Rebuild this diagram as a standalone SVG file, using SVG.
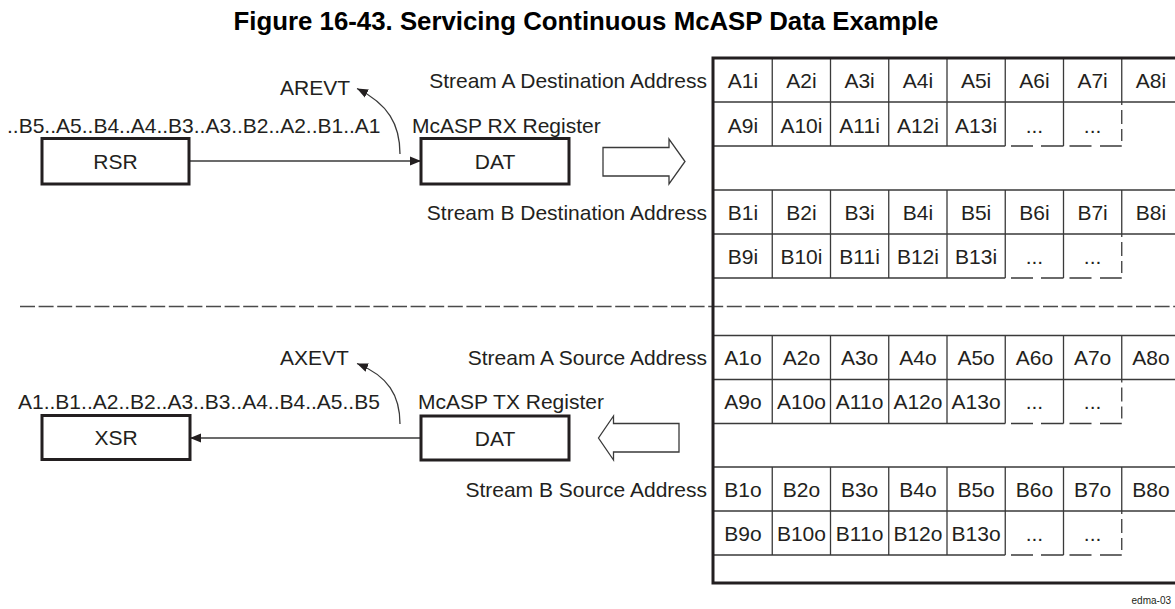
<svg xmlns="http://www.w3.org/2000/svg" xmlns:xlink="http://www.w3.org/1999/xlink" width="1175" height="609" viewBox="0 0 1175 609">
<style>
  .t { font-family: "Liberation Sans", Arial, sans-serif; font-size: 21px; fill: #231f20; }
  .c { text-anchor: middle; }
  .e { text-anchor: end; }
  .title { font-family: "Liberation Sans", Arial, sans-serif; font-size: 25.8px; font-weight: bold; fill: #000; text-anchor: middle; }
  .box { fill: #fff; stroke: #231f20; stroke-width: 3; }
  .thin { fill: none; stroke: #3a3a3a; stroke-width: 1.3; }
  .frame { fill: none; stroke: #231f20; stroke-width: 3; }
  .hollow { fill: #fff; stroke: #3a3a3a; stroke-width: 1.3; }
  .conn { fill: none; stroke: #3a3a3a; stroke-width: 1.3; }
  .sep { fill: none; stroke: #4a4a4a; stroke-width: 1.3; stroke-dasharray: 15 3.6; }
</style>
<defs>
  <marker id="ah" markerUnits="userSpaceOnUse" markerWidth="12" markerHeight="10" refX="11" refY="5" orient="auto">
    <path d="M0,0.5 L11,5 L0,9.5 z" fill="#231f20"/>
  </marker>
  <g id="blk">
    <path class="thin" d="M714,0 H1175 M714,44 H1175 M714,88 H1005.25 M772.25,0 V88 M830.5,0 V88 M888.75,0 V88 M947,0 V88 M1005.25,0 V88 M1063.5,0 V88 M1121.75,0 V44"/>
    <path class="thin" d="M1011,88 H1033 M1041,88 H1063.5 M1069.5,88 H1091.5 M1100,88 H1121.75"/>
    <path class="thin" d="M1121.75,44 V88" stroke-dasharray="3 5 14 5 12 8"/>
  </g>
</defs>
<rect width="1175" height="609" fill="#fff"/>

<text class="title" x="586" y="30">Figure 16-43. Servicing Continuous McASP Data Example</text>

<g id="separator">
  <path class="sep" d="M20,306.5 H1175"/>
</g>

<g id="connectors">
  <path class="conn" d="M190,161 H421" marker-end="url(#ah)"/>
  <path class="conn" d="M421,438 H190" marker-end="url(#ah)"/>
  <path class="conn" d="M400,154 C400,124 388,104 357,88.5" marker-end="url(#ah)"/>
  <path class="conn" d="M400,424 C400,395 388,376 357,363.5" marker-end="url(#ah)"/>
</g>

<g id="rsr">
  <rect class="box" x="42" y="138.5" width="147" height="45.5"/>
  <text class="t c" x="115.5" y="168.5">RSR</text>
  <text class="t" x="7" y="132.5">..B5..A5..B4..A4..B3..A3..B2..A2..B1..A1</text>
</g>
<g id="arevt">
  <text class="t" x="280" y="95">AREVT</text>
</g>
<g id="dat-rx">
  <text class="t" x="412" y="132.5">McASP RX Register</text>
  <rect class="box" x="421" y="138.5" width="148" height="45.5"/>
  <text class="t c" x="495" y="168.5">DAT</text>
</g>
<g id="arrow-rx">
  <polygon class="hollow" points="603,147.5 669,147.5 669,139 685,161.5 669,184 669,176 603,176"/>
</g>

<g id="xsr">
  <rect class="box" x="42" y="415.5" width="148" height="44"/>
  <text class="t c" x="116" y="444.5">XSR</text>
  <text class="t" x="18" y="408.5">A1..B1..A2..B2..A3..B3..A4..B4..A5..B5</text>
</g>
<g id="axevt">
  <text class="t" x="280" y="365">AXEVT</text>
</g>
<g id="dat-tx">
  <text class="t" x="418" y="408.5">McASP TX Register</text>
  <rect class="box" x="421" y="416" width="148" height="44"/>
  <text class="t c" x="495" y="445.5">DAT</text>
</g>
<g id="arrow-tx">
  <polygon class="hollow" points="679,423.5 613.5,423.5 613.5,416 598.5,438 613.5,460 613.5,452 679,452"/>
</g>

<g id="labels">
  <text class="t e" x="707" y="88">Stream A Destination Address</text>
  <text class="t e" x="707" y="219.5">Stream B Destination Address</text>
  <text class="t e" x="707" y="365">Stream A Source Address</text>
  <text class="t e" x="707" y="496.5">Stream B Source Address</text>
</g>

<g id="memory">
  <use xlink:href="#blk" transform="translate(0,58)"/>
  <use xlink:href="#blk" transform="translate(0,190)"/>
  <use xlink:href="#blk" transform="translate(0,335.5)"/>
  <use xlink:href="#blk" transform="translate(0,467)"/>
  <path class="frame" d="M1175,58 H713 V583 H1175"/>

  <g class="t c">
    <text x="743" y="88">A1i</text><text x="801.4" y="88">A2i</text><text x="859.6" y="88">A3i</text><text x="917.9" y="88">A4i</text><text x="976.1" y="88">A5i</text><text x="1034.4" y="88">A6i</text><text x="1092.6" y="88">A7i</text><text x="1150.9" y="88">A8i</text>
    <text x="743" y="132.5">A9i</text><text x="801.4" y="132.5">A10i</text><text x="859.6" y="132.5">A11i</text><text x="917.9" y="132.5">A12i</text><text x="976.1" y="132.5">A13i</text><text x="1034.4" y="132.5">...</text><text x="1092.6" y="132.5">...</text>

    <text x="743" y="219.5">B1i</text><text x="801.4" y="219.5">B2i</text><text x="859.6" y="219.5">B3i</text><text x="917.9" y="219.5">B4i</text><text x="976.1" y="219.5">B5i</text><text x="1034.4" y="219.5">B6i</text><text x="1092.6" y="219.5">B7i</text><text x="1150.9" y="219.5">B8i</text>
    <text x="743" y="263.5">B9i</text><text x="801.4" y="263.5">B10i</text><text x="859.6" y="263.5">B11i</text><text x="917.9" y="263.5">B12i</text><text x="976.1" y="263.5">B13i</text><text x="1034.4" y="263.5">...</text><text x="1092.6" y="263.5">...</text>

    <text x="743" y="365">A1o</text><text x="801.4" y="365">A2o</text><text x="859.6" y="365">A3o</text><text x="917.9" y="365">A4o</text><text x="976.1" y="365">A5o</text><text x="1034.4" y="365">A6o</text><text x="1092.6" y="365">A7o</text><text x="1150.9" y="365">A8o</text>
    <text x="743" y="409">A9o</text><text x="801.4" y="409">A10o</text><text x="859.6" y="409">A11o</text><text x="917.9" y="409">A12o</text><text x="976.1" y="409">A13o</text><text x="1034.4" y="409">...</text><text x="1092.6" y="409">...</text>

    <text x="743" y="496.5">B1o</text><text x="801.4" y="496.5">B2o</text><text x="859.6" y="496.5">B3o</text><text x="917.9" y="496.5">B4o</text><text x="976.1" y="496.5">B5o</text><text x="1034.4" y="496.5">B6o</text><text x="1092.6" y="496.5">B7o</text><text x="1150.9" y="496.5">B8o</text>
    <text x="743" y="540.5">B9o</text><text x="801.4" y="540.5">B10o</text><text x="859.6" y="540.5">B11o</text><text x="917.9" y="540.5">B12o</text><text x="976.1" y="540.5">B13o</text><text x="1034.4" y="540.5">...</text><text x="1092.6" y="540.5">...</text>
  </g>
</g>

<text x="1171" y="604" text-anchor="end" style="font-family:'Liberation Sans', Arial, sans-serif; font-size:10px; fill:#231f20">edma-03</text>
</svg>
